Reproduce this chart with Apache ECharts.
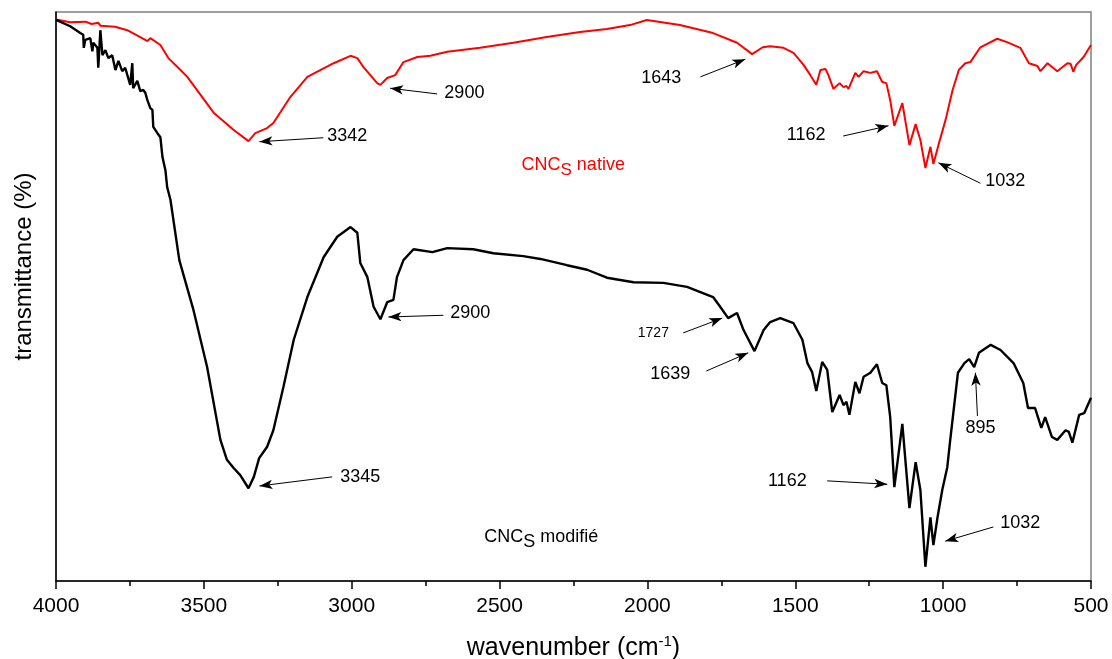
<!DOCTYPE html>
<html>
<head>
<meta charset="utf-8">
<script src="https://cdn.jsdelivr.net/npm/echarts@6/dist/echarts.min.js"></script>
<style>
html,body{margin:0;padding:0;background:#fff;}
#chart{width:1112px;height:659px;}
</style>
</head>
<body>
<div id="chart"></div>
<script>
// x axis ticks (wavenumber, cm-1)
const xTicks = [500, 1000, 1500, 2000, 2500, 3000, 3500, 4000];

// CNCs native (red)
const nativeWn = [4000,3952,3900,3880,3857,3850,3800,3759,3715,3691,3681,3647,3620,3579,3556,3467,3400,3349,3326,3286,3265,3207,3150,3061,3004,2981,2960,2914,2903,2880,2853,2825,2778,2734,2677,2566,2453,2341,2228,2137,2059,2002,1890,1778,1697,1646,1610,1585,1540,1506,1472,1449,1429,1415,1398,1388,1371,1350,1337,1327,1320,1297,1286,1269,1246,1224,1206,1192,1179,1165,1138,1114,1093,1077,1060,1043,1033,1016,992,968,947,925,908,874,817,784,739,710,681,671,647,614,580,569,560,550,525,500];
const nativeT  = [98.7,98.2,98.3,97.9,98.1,97.6,97.4,96.8,95.6,94.9,95.4,94.2,91.9,89.8,88.6,82.3,79.3,77.3,78.7,79.6,80.5,85.1,88.6,91.0,92.3,91.9,90.3,87.5,87.2,88.4,88.9,91.2,92.1,92.3,93.0,93.7,94.6,95.6,96.5,97.0,97.7,98.6,97.7,96.3,94.6,92.6,93.8,94.0,93.7,92.8,90.7,88.9,87.2,89.8,90.0,88.9,86.5,87.5,86.8,87.0,86.5,89.3,88.6,89.6,89.3,89.6,87.7,87.5,84.5,80.0,84.0,76.6,80.3,77.5,72.6,76.3,73.3,76.6,81.0,86.3,89.8,91.0,91.2,93.8,95.3,94.7,93.7,91.0,90.5,89.6,91.0,89.6,91.0,90.9,89.5,90.7,92.1,94.2];

// CNCs modifié (black)
const modWn = [4000,3952,3918,3908,3906,3901,3884,3877,3874,3860,3857,3850,3843,3833,3823,3810,3799,3789,3776,3766,3749,3742,3739,3725,3715,3705,3698,3691,3681,3674,3671,3657,3647,3640,3630,3624,3613,3583,3535,3489,3444,3422,3400,3377,3349,3331,3313,3286,3265,3231,3196,3150,3095,3049,3004,2981,2971,2947,2926,2903,2880,2859,2847,2825,2791,2727,2677,2589,2521,2420,2362,2272,2204,2137,2047,1946,1866,1778,1754,1727,1697,1675,1638,1607,1585,1551,1506,1476,1459,1443,1429,1409,1392,1375,1350,1337,1327,1317,1297,1283,1269,1246,1224,1206,1192,1179,1165,1138,1114,1093,1077,1060,1043,1033,1019,1003,986,976,950,928,912,895,879,839,806,762,729,713,689,668,655,632,614,586,575,563,540,523,500];
const modT  = [98.6,97.5,96.3,96.0,93.7,95.1,95.4,93.1,94.6,93.7,90.2,96.8,92.4,93.3,91.9,92.4,89.8,91.4,89.6,90.2,87.2,91.0,86.6,87.9,86.1,86.3,85.8,84.5,83.1,82.8,79.8,78.7,78.0,74.5,72.2,69.2,67.0,56.4,47.6,37.6,24.8,21.3,19.9,18.6,16.3,18.3,21.6,23.6,26.5,34.1,42.4,49.9,56.9,60.5,62.2,61.2,55.9,53.4,48.2,46.0,49.0,49.4,53.4,56.4,58.3,57.8,58.5,58.3,57.6,57.1,56.6,55.5,54.7,53.3,52.5,52.4,51.7,49.9,48.2,46.2,47.1,44.1,40.4,44.1,45.5,46.2,45.3,42.4,38.3,36.7,33.4,38.5,37.1,29.7,32.7,30.9,31.5,29.2,35.0,33.0,35.9,36.6,38.1,34.8,34.4,28.8,16.5,27.6,12.8,20.9,16.0,2.5,11.2,6.3,11.2,16.0,20.0,24.8,36.6,38.3,39.0,37.6,40.1,41.5,40.6,38.3,34.8,30.4,30.4,26.9,28.8,25.3,24.8,26.5,26.2,24.3,29.2,29.5,32.2];

// peak annotations: text, label centre, arrow tail, arrow head (wavenumber, transmittance)
const nativePeakText = ['3342','2900','1643','1162','1032'];
const nativePeakLabel = [[3015,78.2],[2619,85.8],[1953,88.4],[1463,78.4],[790,70.3]];
const nativePeakTail  = [[3096,77.9],[2711,85.6],[1821,88.6],[1338,78.2],[874,69.9]];
const nativePeakHead  = [[3312,77.2],[2870,86.6],[1669,91.7],[1185,80.0],[1016,73.5]];

const modPeakText = ['3345','2900','1727','1639','895','1162','1032'];
const modPeakLabel = [[2971,18.3],[2599,47.1],[1980,43.6],[1923,36.4],[874,26.9],[1527,17.6],[739,10.2]];
const modPeakTail  = [[3066,18.3],[2690,46.7],[1879,43.6],[1801,36.9],[884,29.0],[1392,17.6],[830,9.5]];
const modPeakHead  = [[3312,16.7],[2876,46.4],[1747,46.2],[1659,40.1],[891,36.6],[1189,17.0],[993,7.0]];

const seriesNames = ['CNCs native', 'CNCs modifié'];
const nameLabelPos = [[2251,73.1],[2359,7.7]];

const FONT = '"Liberation Sans", Arial, sans-serif';

function zip(a, b) { return a.map((v, i) => [v, b[i]]); }

function arrows(tails, heads) {
  return tails.map((t, i) => [{ coord: t }, { coord: heads[i] }]);
}
function labels(texts, pos, smallIdx) {
  return texts.map((t, i) => ({
    coord: pos[i], value: t,
    label: { fontSize: (smallIdx === i) ? 14 : 18 }
  }));
}

const chart = echarts.init(document.getElementById('chart'), null, { renderer: 'canvas' });

const markLineBase = {
  silent: true,
  symbol: ['none', 'arrow'],
  symbolSize: [7, 13],
  lineStyle: { color: '#000', width: 1, type: 'solid' },
  label: { show: false },
  emphasis: { disabled: true },
  animation: false
};
const markPointBase = {
  silent: true,
  symbol: 'circle',
  symbolSize: 0,
  itemStyle: { color: 'transparent' },
  label: {
    show: true, position: 'inside', color: '#000', fontFamily: FONT, fontSize: 18,
    formatter: p => p.value
  },
  animation: false
};

const option = {
  animation: false,
  backgroundColor: '#fff',
  grid: {
    left: 56, right: 21, top: 12, bottom: 78,
    containLabel: false,
    outerBoundsMode: 'none',
    show: true, borderColor: '#808080', borderWidth: 1.5, backgroundColor: 'transparent'
  },
  xAxis: {
    type: 'value',
    inverse: true,
    min: xTicks[0], max: xTicks[xTicks.length - 1],
    interval: xTicks[1] - xTicks[0],
    axisLine: { show: true, lineStyle: { color: '#000', width: 1.5 } },
    axisTick: { show: true, inside: false, length: 8, lineStyle: { color: '#000', width: 1.5 } },
    minorTick: { show: true, splitNumber: 2, length: 5, lineStyle: { color: '#000', width: 1.5 } },
    splitLine: { show: false },
    axisLabel: { color: '#000', fontFamily: FONT, fontSize: 21, margin: 15, formatter: v => String(v) },
    name: 'wavenumber (cm{sup|-1})',
    nameLocation: 'middle',
    nameGap: 53,
    nameTextStyle: {
      color: '#000', fontFamily: FONT, fontSize: 25,
      rich: { sup: { fontSize: 15, fontFamily: FONT, color: '#000', padding: [0, 0, 13, 0] } }
    }
  },
  yAxis: {
    type: 'value',
    min: 0, max: 100,
    axisLine: { show: true, lineStyle: { color: '#000', width: 1.5 } },
    axisTick: { show: false },
    axisLabel: { show: false },
    splitLine: { show: false },
    name: 'transmittance (%)',
    nameLocation: 'middle',
    nameGap: 20,
    nameRotate: 90,
    nameTextStyle: { color: '#000', fontFamily: FONT, fontSize: 24, padding: [0, 0, 0, 60] }
  },
  series: [
    {
      name: seriesNames[0],
      type: 'line',
      data: zip(nativeWn, nativeT),
      showSymbol: false,
      symbol: 'none',
      lineStyle: { color: '#ff0000', width: 2 },
      z: 3,
      markLine: Object.assign({}, markLineBase, { data: arrows(nativePeakTail, nativePeakHead) }),
      markPoint: Object.assign({}, markPointBase, {
        data: labels(nativePeakText, nativePeakLabel, -1).concat([{
          coord: nameLabelPos[0], value: 'name',
          label: {
            formatter: 'CNC{sub|S} native', color: '#ff0000', fontSize: 18,
            rich: { sub: { fontSize: 17, color: '#ff0000', fontFamily: FONT, padding: [10, 0, 0, 0] } }
          }
        }])
      })
    },
    {
      name: seriesNames[1],
      type: 'line',
      data: zip(modWn, modT),
      showSymbol: false,
      symbol: 'none',
      lineStyle: { color: '#000000', width: 2.4 },
      z: 4,
      markLine: Object.assign({}, markLineBase, { data: arrows(modPeakTail, modPeakHead) }),
      markPoint: Object.assign({}, markPointBase, {
        data: labels(modPeakText, modPeakLabel, 2).concat([{
          coord: nameLabelPos[1], value: 'name',
          label: {
            formatter: 'CNC{sub|S} modifié', color: '#000', fontSize: 18,
            rich: { sub: { fontSize: 18, color: '#000', fontFamily: FONT, padding: [10, 0, 0, 0] } }
          }
        }])
      })
    }
  ]
};
chart.setOption(option);
</script>
</body>
</html>
